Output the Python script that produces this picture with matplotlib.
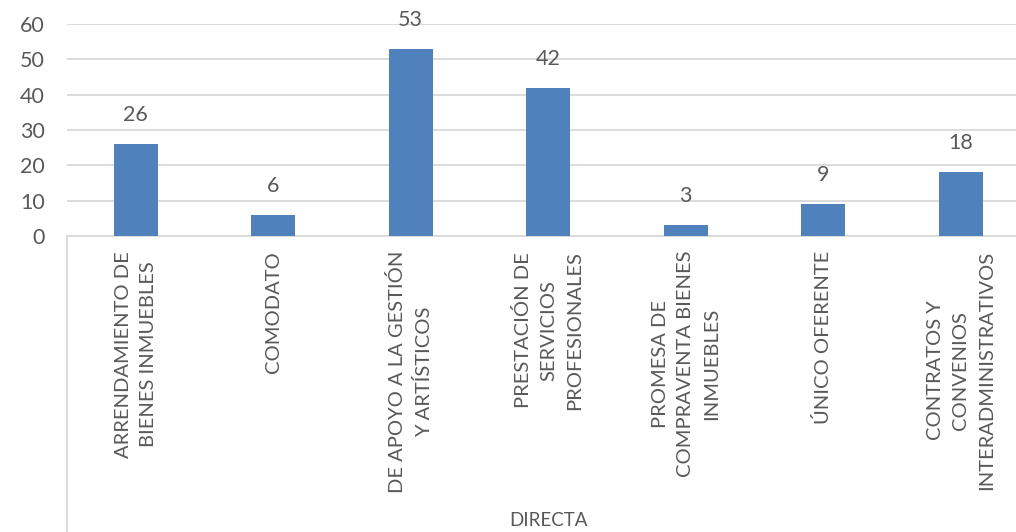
import matplotlib
matplotlib.use("Agg")
import matplotlib.pyplot as plt

# data
categories = [
    "ARRENDAMIENTO DE\nBIENES INMUEBLES",
    "COMODATO",
    "DE APOYO A LA GESTIÓN\nY ARTÍSTICOS",
    "PRESTACIÓN DE\nSERVICIOS\nPROFESIONALES",
    "PROMESA DE\nCOMPRAVENTA BIENES\nINMUEBLES",
    "ÚNICO OFERENTE",
    "CONTRATOS Y\nCONVENIOS\nINTERADMINISTRATIVOS",
]
values = [26, 6, 53, 42, 3, 9, 18]
group_label = "DIRECTA"
y_ticks = [0, 10, 20, 30, 40, 50, 60]

bar_color = "#4F81BD"
grid_color = "#D9D9D9"
text_color = "#595959"

plt.rcParams["font.family"] = ["Lato", "DejaVu Sans"]

W, H = 1016, 532
fig = plt.figure(figsize=(W / 100, H / 100), dpi=100)
# plot area runs slightly past the right edge, like the cropped original
left, right = 67, 67 + 7 * 137.5
top, bottom = 24, 236
ax = fig.add_axes([left / W, 1 - bottom / H, (right - left) / W, (bottom - top) / H])

x = range(len(values))
ax.bar(x, values, width=0.32, color=bar_color, zorder=3)
ax.set_xlim(-0.5, len(values) - 0.5)
ax.set_ylim(0, 60)
ax.set_yticks(y_ticks)
ax.tick_params(axis="y", length=0, pad=16, labelsize=15.5, labelcolor=text_color)
ax.set_xticks([])
ax.yaxis.grid(True, color=grid_color, linewidth=1.3, zorder=0)

for s in ["top", "right", "left"]:
    ax.spines[s].set_visible(False)
ax.spines["bottom"].set_color(grid_color)
ax.spines["bottom"].set_linewidth(1.3)

for i, v in enumerate(values):
    ax.annotate(str(v), (i, v), xytext=(0, 29), textcoords="offset pixels",
                ha="center", va="center", fontsize=15.5, color=text_color)

# rotated category labels
for i, lab in enumerate(categories):
    ax.annotate(lab, (i, 0), xytext=(0, -15), textcoords="offset pixels",
                rotation=90, ha="center", va="top", multialignment="center",
                fontsize=14.5, color=text_color, linespacing=1.6,
                annotation_clip=False)

# group separator line on the left
ax.plot([-0.5, -0.5], [0, -1.5], transform=ax.get_xaxis_transform(),
        color=grid_color, linewidth=1.3, clip_on=False)

ax.annotate(group_label, (0.5, 0), xycoords="axes fraction",
            xytext=(0, -284), textcoords="offset pixels",
            ha="center", va="center", fontsize=13.5, color=text_color,
            annotation_clip=False)

fig.savefig("out.png", dpi=100)
